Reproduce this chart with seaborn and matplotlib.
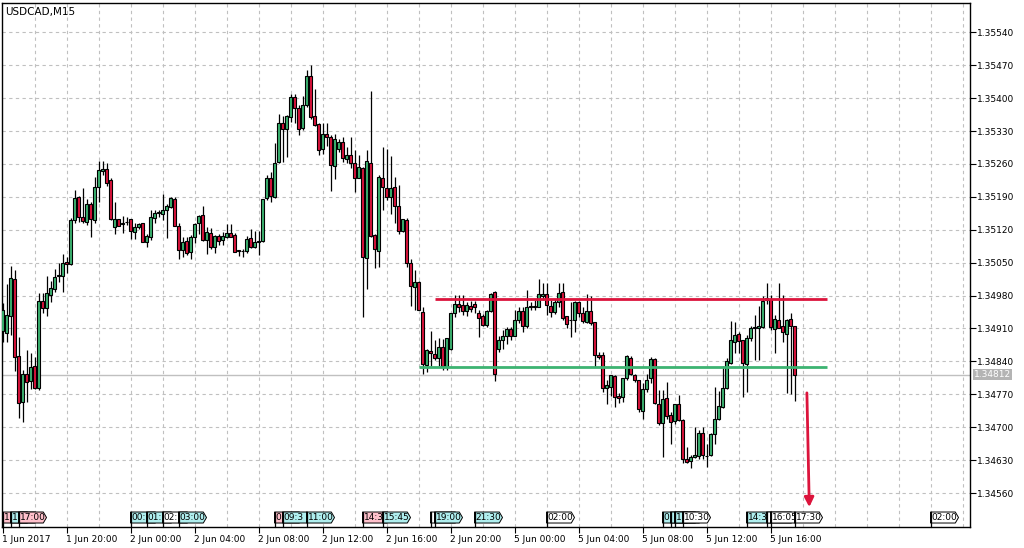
import numpy as np
import pandas as pd
import seaborn as sns
import matplotlib
matplotlib.use("Agg")
import matplotlib.pyplot as plt
from matplotlib.patches import Polygon
from matplotlib.transforms import blended_transform_factory

sns.set_theme(style="white")
plt.rcParams['font.family'] = ['DejaVu Sans']

symbol_title = "USDCAD,M15"

# ---- OHLC data, M15 bars starting 1 Jun 2017 16:00 (prices in points of 0.00001) ----
open_pts = [
    134905, 134901, 134937, 135015, 134852, 134754, 134813, 134799, 134831, 134783,
    134969, 134953, 134981, 134993, 135021, 135022, 135052, 135047, 135141, 135189,
    135147, 135137, 135175, 135141, 135210, 135244, 135249, 135226, 135125, 135142,
    135132, 135136, 135142, 135116, 135125, 135134, 135093, 135105, 135144, 135156,
    135154, 135162, 135168, 135185, 135127, 135076, 135095, 135073, 135105, 135134,
    135151, 135098, 135114, 135084, 135107, 135098, 135104, 135114, 135109, 135076,
    135074, 135075, 135102, 135083, 135094, 135095, 135187, 135229, 135190, 135265,
    135348, 135334, 135360, 135402, 135378, 135336, 135385, 135446, 135362, 135345,
    135291, 135324, 135318, 135256, 135291, 135306, 135270, 135279, 135261, 135231,
    135251, 135059, 135263, 135109, 135075, 135231, 135208, 135190, 135210, 135171,
    135117, 135140, 135050, 134999, 135008, 134944, 134832, 134862, 134855, 134848,
    134870, 134828, 134866, 134943, 134962, 134960, 134948, 134957, 134963, 134943,
    134936, 134917, 134947, 134988, 134866, 134885, 134894, 134908, 134894, 134928,
    134948, 134915, 134955, 134956, 134956, 134978, 134984, 134957, 134945, 134967,
    134988, 134936, 134928, 134928, 134967, 134943, 134924, 134947, 134924, 134853,
    134853, 134784, 134786, 134809, 134766, 134765, 134804, 134848, 134811, 134800,
    134735, 134782, 134804, 134846, 134749, 134708, 134763, 134726, 134713, 134750,
    134716, 134633, 134628, 134636, 134638, 134688, 134638, 134641, 134685, 134718,
    134743, 134784, 134837, 134882, 134898, 134885, 134834, 134889, 134912, 134912,
    134913, 134970, 134972, 134908, 134929, 134915, 134898, 134931, 134915,
]
high_pts = [
    134965, 135005, 135043, 135034, 134891, 134822, 134864, 134857, 134850, 134985,
    134985, 135022, 135010, 135036, 135050, 135069, 135063, 135144, 135205, 135192,
    135208, 135185, 135178, 135233, 135267, 135267, 135263, 135229, 135180, 135143,
    135149, 135148, 135143, 135134, 135134, 135135, 135110, 135161, 135161, 135161,
    135196, 135175, 135190, 135189, 135134, 135105, 135105, 135109, 135135, 135151,
    135170, 135126, 135123, 135109, 135111, 135116, 135132, 135132, 135114, 135077,
    135078, 135107, 135121, 135118, 135118, 135186, 135236, 135243, 135304, 135366,
    135362, 135364, 135409, 135409, 135385, 135404, 135460, 135470, 135419, 135347,
    135348, 135346, 135321, 135324, 135312, 135317, 135295, 135317, 135290, 135279,
    135253, 135290, 135416, 135111, 135236, 135295, 135291, 135277, 135233, 135215,
    135143, 135145, 135058, 135034, 135010, 134955, 134867, 134904, 134885, 134889,
    134887, 134890, 134943, 134981, 134981, 134981, 134967, 134969, 134969, 134950,
    134940, 134950, 134986, 134990, 134894, 134906, 134913, 134913, 134949, 134955,
    134956, 134991, 134967, 134970, 135016, 135006, 135007, 134970, 134972, 135006,
    135007, 134936, 134967, 134968, 134968, 134956, 134983, 134979, 134924, 134860,
    134860, 134800, 134812, 134812, 134772, 134805, 134853, 134851, 134813, 134801,
    134793, 134814, 134850, 134848, 134779, 134779, 134796, 134733, 134750, 134768,
    134717, 134658, 134640, 134701, 134694, 134701, 134665, 134687, 134786, 134777,
    134830, 134848, 134926, 134924, 134903, 134886, 134896, 134915, 134938, 134957,
    134979, 135006, 134981, 134938, 135006, 134981, 134931, 134943, 134916,
]
low_pts = [
    134882, 134882, 134896, 134820, 134720, 134710, 134754, 134782, 134782, 134780,
    134942, 134937, 134967, 134988, 135008, 134988, 135027, 135045, 135134, 135137,
    135134, 135130, 135105, 135135, 135180, 135237, 135212, 135140, 135112, 135127,
    135114, 135130, 135101, 135100, 135121, 135093, 135084, 135098, 135135, 135148,
    135141, 135102, 135166, 135128, 135057, 135063, 135066, 135057, 135091, 135110,
    135096, 135068, 135078, 135070, 135088, 135088, 135102, 135104, 135072, 135064,
    135061, 135070, 135082, 135082, 135066, 135093, 135183, 135178, 135188, 135262,
    135265, 135274, 135350, 135348, 135321, 135333, 135382, 135355, 135341, 135279,
    135282, 135298, 135203, 135227, 135286, 135265, 135261, 135251, 135201, 135230,
    134934, 134995, 135105, 135038, 135040, 135163, 135183, 135153, 135135, 135111,
    135116, 135040, 134957, 134950, 134950, 134814, 134818, 134830, 134843, 134830,
    134821, 134821, 134864, 134935, 134945, 134938, 134936, 134945, 134942, 134892,
    134915, 134913, 134945, 134799, 134860, 134867, 134878, 134885, 134894, 134921,
    134903, 134912, 134949, 134949, 134956, 134970, 134938, 134935, 134940, 134956,
    134928, 134910, 134892, 134903, 134935, 134921, 134921, 134917, 134828, 134845,
    134775, 134750, 134766, 134743, 134752, 134754, 134800, 134811, 134796, 134733,
    134718, 134775, 134793, 134750, 134704, 134637, 134718, 134665, 134706, 134714,
    134624, 134623, 134614, 134634, 134633, 134633, 134616, 134638, 134665, 134716,
    134740, 134782, 134835, 134857, 134857, 134765, 134775, 134884, 134843, 134843,
    134912, 134963, 134906, 134858, 134910, 134882, 134772, 134770, 134756,
]
close_pts = [
    134950, 134939, 135017, 134850, 134752, 134813, 134797, 134827, 134784, 134969,
    134954, 134985, 134996, 135020, 135023, 135049, 135047, 135141, 135187, 135148,
    135139, 135175, 135142, 135210, 135247, 135249, 135219, 135142, 135142, 135129,
    135134, 135137, 135118, 135125, 135132, 135093, 135107, 135147, 135156, 135157,
    135162, 135171, 135187, 135129, 135076, 135093, 135070, 135105, 135132, 135149,
    135098, 135116, 135083, 135107, 135095, 135107, 135114, 135105, 135073, 135075,
    135075, 135100, 135083, 135093, 135095, 135185, 135231, 135192, 135263, 135348,
    135334, 135362, 135402, 135378, 135334, 135385, 135447, 135359, 135343, 135290,
    135324, 135318, 135258, 135314, 135306, 135272, 135280, 135261, 135231, 135254,
    135061, 135266, 135107, 135078, 135233, 135210, 135189, 135208, 135170, 135117,
    135142, 135050, 135000, 135008, 134950, 134835, 134864, 134857, 134848, 134870,
    134830, 134889, 134942, 134962, 134956, 134948, 134960, 134952, 134955, 134933,
    134917, 134947, 134984, 134814, 134885, 134894, 134908, 134894, 134928, 134948,
    134915, 134956, 134958, 134958, 134984, 134984, 134960, 134945, 134967, 134986,
    134933, 134920, 134929, 134967, 134942, 134926, 134947, 134921, 134853, 134850,
    134784, 134789, 134811, 134765, 134763, 134804, 134851, 134813, 134800, 134738,
    134782, 134801, 134846, 134752, 134708, 134761, 134723, 134711, 134749, 134716,
    134633, 134626, 134637, 134640, 134687, 134641, 134639, 134685, 134718, 134745,
    134784, 134841, 134885, 134896, 134884, 134837, 134889, 134910, 134913, 134915,
    134969, 134974, 134913, 134931, 134912, 134903, 134929, 134915, 134812,
]

# axis ticks
price_ticks = [1.34560, 1.34630, 1.34700, 1.34770, 1.34840, 1.34910, 1.34980,
               1.35050, 1.35120, 1.35190, 1.35260, 1.35330, 1.35400, 1.35470, 1.35540]
time_tick_bars = [0, 16, 32, 48, 64, 80, 96, 112, 128, 144, 160, 176, 192]
time_tick_labels = ["1 Jun 2017", "1 Jun 20:00", "2 Jun 00:00", "2 Jun 04:00",
                    "2 Jun 08:00", "2 Jun 12:00", "2 Jun 16:00", "2 Jun 20:00",
                    "5 Jun 00:00", "5 Jun 04:00", "5 Jun 08:00", "5 Jun 12:00",
                    "5 Jun 16:00"]

# levels and annotations
resistance_level = 1.34972
resistance_span = (108, 206)
support_level = 1.34827
support_span = (104, 206)
last_price = 1.34812
arrow_from = (201.1, 1.34773)
arrow_to = (201.7, 1.34530)

# event labels at the bottom: (bar, visible text, kind)
event_bars = [0, 2, 4, 32, 36, 40, 44, 68, 70, 76, 90, 95, 107, 108, 118,
              136, 165, 167, 168, 170, 186, 191, 192, 198, 232]
event_texts = ["1", "1", "17:00", "00:", "01:", "02:", "03:00",
               "0", "09:3", "11:00", "14:3", "15:45", "", "19:00",
               "21:30", "02:00", "0", "", "1", "10:30", "14:3",
               "", "16:05", "17:30", "02:00"]
event_kinds = ["p", "c", "p", "c", "c", "w", "c", "p", "c", "c", "p", "c", "w",
               "c", "c", "w", "c", "c", "c", "w", "c", "w", "w", "w", "w"]

BULL = "#3CB371"
BEAR = "#DC143C"
GRID = "#c0c0c0"
kind_colors = {"p": "#ffc0cb", "c": "#afeeee", "w": "#ffffff"}

df = pd.DataFrame({
    "open": np.array(open_pts) / 1e5,
    "high": np.array(high_pts) / 1e5,
    "low": np.array(low_pts) / 1e5,
    "close": np.array(close_pts) / 1e5,
})
df["bar"] = np.arange(len(df))
df["bull"] = df["close"] >= df["open"]

fig = plt.figure(figsize=(10.24, 5.48), dpi=100)
fig.patch.set_facecolor("white")
ax = fig.add_axes([2 / 1024, 21 / 548, 968 / 1024, 524 / 548])
ax.set_facecolor("white")

xmin, xmax = -0.125, 241.875
ymin, ymax = 1.344877, 1.356023
ax.set_xlim(xmin, xmax)
ax.set_ylim(ymin, ymax)

# grid
for b in range(8, 242, 8):
    ax.axvline(b, color=GRID, lw=0.8, ls=(0, (3, 3)), zorder=0)
for p in price_ticks:
    ax.axhline(p, color=GRID, lw=0.8, ls=(0, (3, 3)), zorder=0)

# last price line
ax.axhline(last_price, color="#c0c0c0", lw=1.0, zorder=1)

# candles
ax.vlines(df["bar"], df["low"], df["high"], color="black", lw=0.9, zorder=2)
body_bottom = np.minimum(df["open"], df["close"])
body_height = np.abs(df["close"] - df["open"])
colors = np.where(df["bull"], BULL, BEAR)
ax.bar(df["bar"], body_height, bottom=body_bottom, width=0.62,
       color=colors, edgecolor="black", linewidth=0.8, zorder=3)

# levels
ax.hlines(resistance_level, *resistance_span, color=BEAR, lw=2.0, zorder=4)
ax.hlines(support_level, *support_span, color=BULL, lw=2.0, zorder=4)

# arrow
ax.annotate("", xy=arrow_to, xytext=arrow_from,
            arrowprops=dict(arrowstyle="-|>", color=BEAR, lw=2.0,
                            mutation_scale=14, shrinkA=0, shrinkB=0),
            zorder=5)

# event labels
trans = blended_transform_factory(ax.transData, ax.transAxes)
y0, y1 = 0.0076, 0.0286
ym = (y0 + y1) / 2
for k, (b, t, kd) in enumerate(zip(event_bars, event_texts, event_kinds)):
    z = 10 + 2 * k
    poly = Polygon([(b, y0), (b + 6.2, y0), (b + 7.0, ym), (b + 6.2, y1), (b, y1)],
                   closed=True, facecolor=kind_colors[kd], edgecolor="black",
                   lw=0.7, transform=trans, zorder=z, clip_on=False)
    ax.add_patch(poly)
    ax.plot([b, b], [0, y1], color="black", lw=0.9, transform=trans, zorder=z,
            clip_on=False)
    if t:
        txt = ax.text(b + 0.25, ym, t, transform=trans, fontsize=6.5, va="center",
                      ha="left", color="black", zorder=z + 1)
        txt.set_clip_path(poly)

# axes styling
for s in ax.spines.values():
    s.set_color("black")
    s.set_linewidth(1.0)
ax.yaxis.tick_right()
ax.set_yticks(price_ticks)
ax.set_yticklabels([f"{p:.5f}" for p in price_ticks])
ax.tick_params(axis="y", direction="out", length=4, width=0.8, labelsize=6.5,
               pad=1, colors="black", right=True, left=False)
ax.set_xticks(time_tick_bars)
ax.set_xticklabels(time_tick_labels, ha="left")
ax.tick_params(axis="x", direction="out", length=4, width=0.8, labelsize=6.5,
               pad=2, colors="black", bottom=True)
ax.grid(False)

# last price tag
tr2 = blended_transform_factory(ax.transAxes, ax.transData)
ax.text(1.004, last_price, f"{last_price:.5f}", transform=tr2, fontsize=6.5,
        color="white", va="center", ha="left",
        bbox=dict(boxstyle="square,pad=0.15", facecolor="#b4b4b4", edgecolor="none"))

# title
ax.text(0.003, 0.993, symbol_title, transform=ax.transAxes, fontsize=7.5,
        va="top", ha="left", color="black")

fig.savefig("out.png", dpi=100, facecolor="white")
